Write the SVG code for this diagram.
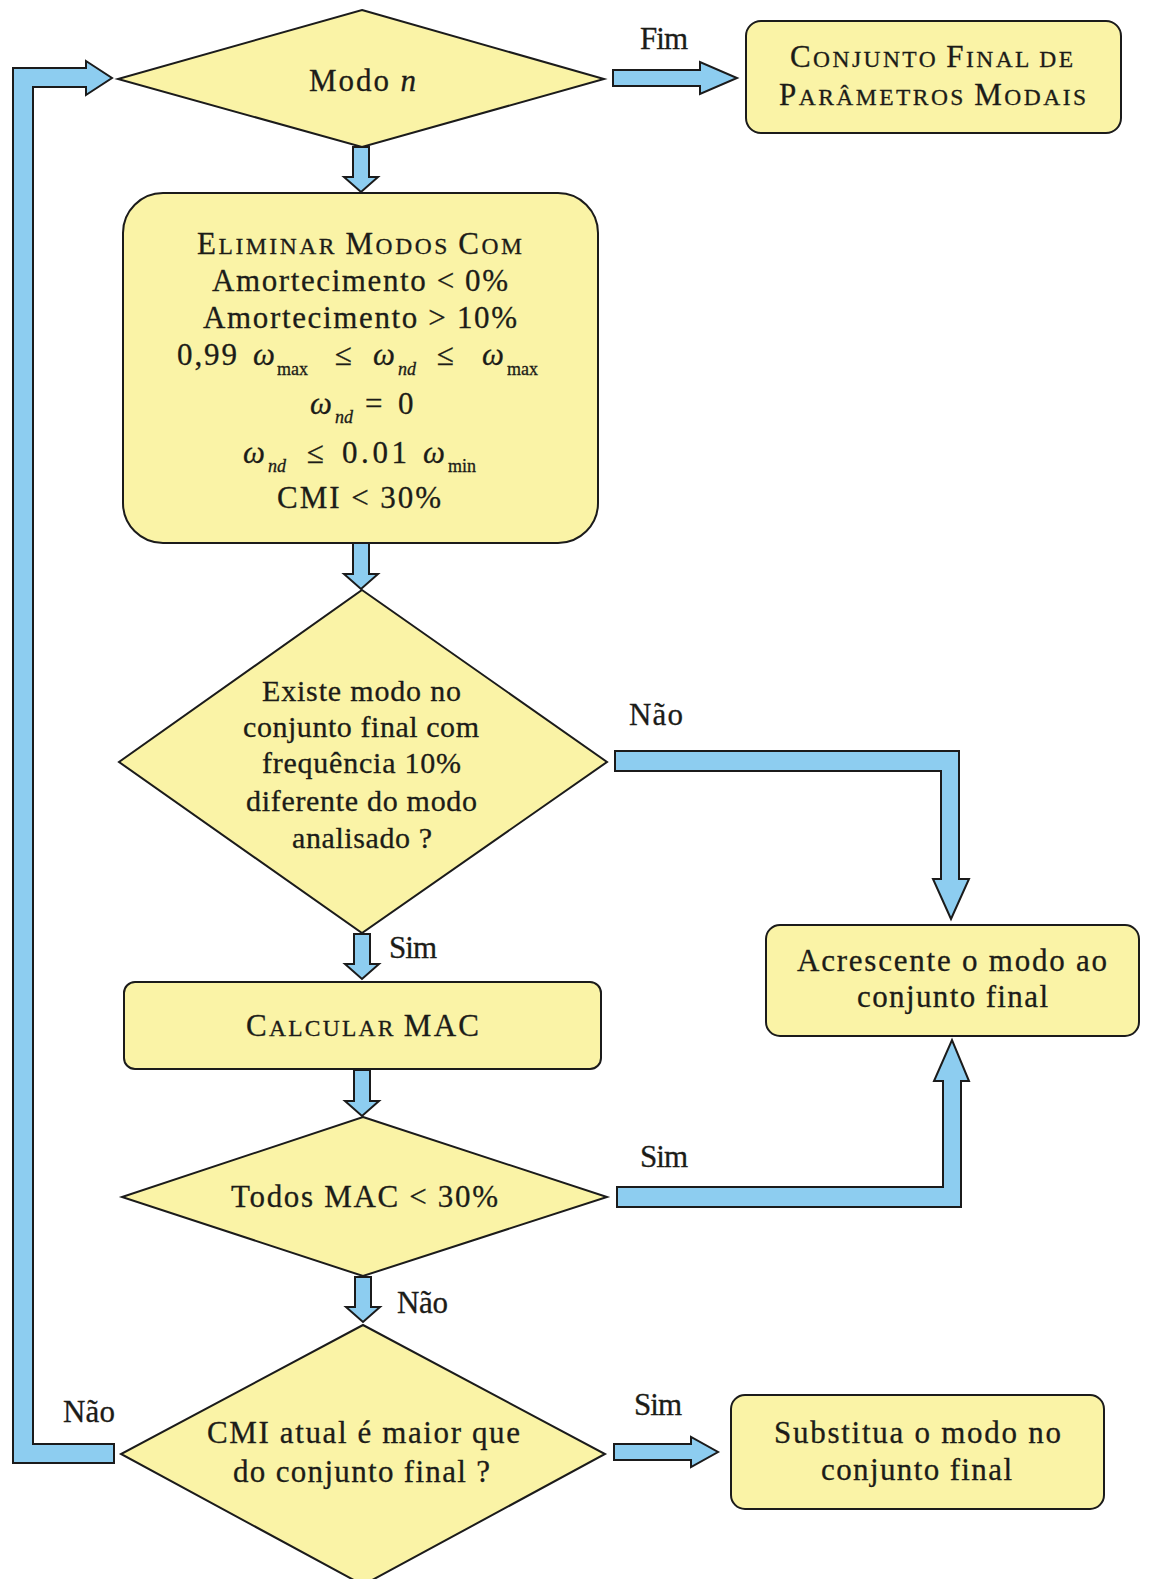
<svg xmlns="http://www.w3.org/2000/svg" width="1149" height="1579" viewBox="0 0 1149 1579">
<style>
.n{fill:#faf3a6;stroke:#1b1b1b;stroke-width:2;stroke-linejoin:miter}
.a{fill:#8dcdf0;stroke:#1b1b1b;stroke-width:2;stroke-linejoin:miter}
text{font-family:"Liberation Serif","Times New Roman",serif;font-size:31px;fill:#1c1c18;stroke:#1c1c18;stroke-width:0.3}
.sc{font-size:23.5px}
.it{font-style:italic}
.sub{font-size:18px}
.d{font-size:30px}
</style>
<rect width="1149" height="1579" fill="#ffffff"/>

<g id="connectors">
  <path class="a" d="M114,1444 L33,1444 L33,87 L86,87 L86,95 L112,78 L86,61 L86,68 L13,68 L13,1463 L114,1463 Z"/>
  <path class="a" d="M613,70 L700,70 L700,62 L737,78 L700,94 L700,86 L613,86 Z"/>
  <path class="a" d="M353,147 L369,147 L369,177 L378,177 L361,192 L344,177 L353,177 Z"/>
  <path class="a" d="M353,543 L369,543 L369,574 L378,574 L361,589 L344,574 L353,574 Z"/>
  <path class="a" d="M615,751 L959,751 L959,879 L969,879 L951,919 L933,879 L941,879 L941,771 L615,771 Z"/>
  <path class="a" d="M354,934 L370,934 L370,964 L379,964 L362,979 L345,964 L354,964 Z"/>
  <path class="a" d="M354,1070 L370,1070 L370,1101 L379,1101 L362,1116 L345,1101 L354,1101 Z"/>
  <path class="a" d="M617,1207 L961,1207 L961,1081 L969,1081 L952,1040 L934,1081 L943,1081 L943,1187 L617,1187 Z"/>
  <path class="a" d="M355,1277 L371,1277 L371,1307 L380,1307 L363,1322 L346,1307 L355,1307 Z"/>
  <path class="a" d="M614,1444 L691,1444 L691,1437 L718,1452 L691,1467 L691,1460 L614,1460 Z"/>
  <text x="640" y="49" textLength="48">Fim</text>
  <text x="629" y="725" textLength="54">Não</text>
  <text x="389" y="958" textLength="48">Sim</text>
  <text x="640" y="1167" textLength="48">Sim</text>
  <text x="397" y="1313" textLength="51">Não</text>
  <text x="63" y="1422" textLength="52">Não</text>
  <text x="634" y="1415" textLength="48">Sim</text>
</g>

<g id="node-modo">
  <polygon class="n" points="362,10 604,79 362,147 118,79"/>
  <text x="309" y="91" textLength="107">Modo <tspan class="it">n</tspan></text>
</g>

<g id="node-conjunto-final">
  <rect class="n" x="746" y="21" width="375" height="112" rx="15"/>
  <text x="790" y="67" textLength="283">C<tspan class="sc">ONJUNTO </tspan>F<tspan class="sc">INAL DE</tspan></text>
  <text x="779" y="105" textLength="307">P<tspan class="sc">ARÂMETROS </tspan>M<tspan class="sc">ODAIS</tspan></text>
</g>

<g id="node-eliminar">
  <rect class="n" x="123" y="193" width="475" height="350" rx="40"/>
  <text x="197" y="254" textLength="325">E<tspan class="sc">LIMINAR </tspan>M<tspan class="sc">ODOS </tspan>C<tspan class="sc">OM</tspan></text>
  <text x="212" y="291" textLength="296">Amortecimento &lt; 0%</text>
  <text x="203" y="328" textLength="314">Amortecimento &gt; 10%</text>
  <text x="177" y="365" textLength="60">0,99</text>
  <text x="253" y="365" class="it">ω</text>
  <text x="277" y="375" class="sub">max</text>
  <text x="335" y="365">≤</text>
  <text x="373" y="365" class="it">ω</text>
  <text x="398" y="375" class="sub it">nd</text>
  <text x="437" y="365">≤</text>
  <text x="482" y="365" class="it">ω</text>
  <text x="507" y="375" class="sub">max</text>
  <text x="310" y="414" class="it">ω</text>
  <text x="335" y="423" class="sub it">nd</text>
  <text x="365" y="414">=</text>
  <text x="398" y="414">0</text>
  <text x="243" y="463" class="it">ω</text>
  <text x="268" y="472" class="sub it">nd</text>
  <text x="307" y="463">≤</text>
  <text x="342" y="463" textLength="65">0.01</text>
  <text x="423" y="463" class="it">ω</text>
  <text x="448" y="472" class="sub">min</text>
  <text x="277" y="508" textLength="164">CMI &lt; 30%</text>
</g>

<g id="node-existe">
  <polygon class="n" points="362,590 607,762 362,933 119,762"/>
  <text class="d" x="262" y="701" textLength="199">Existe modo no</text>
  <text class="d" x="243" y="737" textLength="236">conjunto final com</text>
  <text class="d" x="262" y="773" textLength="199">frequência 10%</text>
  <text class="d" x="246" y="811" textLength="231">diferente do modo</text>
  <text class="d" x="292" y="848" textLength="140">analisado ?</text>
</g>

<g id="node-acrescente">
  <rect class="n" x="766" y="925" width="373" height="111" rx="14"/>
  <text x="797" y="971" textLength="310">Acrescente o modo ao</text>
  <text x="857" y="1007" textLength="191">conjunto final</text>
</g>

<g id="node-calcular">
  <rect class="n" x="124" y="982" width="477" height="87" rx="11"/>
  <text x="246" y="1036" textLength="233">C<tspan class="sc">ALCULAR </tspan>MAC</text>
</g>

<g id="node-todos">
  <polygon class="n" points="363,1117 607,1197 363,1276 122,1197"/>
  <text x="231" y="1207" textLength="267">Todos MAC &lt; 30%</text>
</g>

<g id="node-cmi">
  <polygon class="n" points="363,1325 605,1454 363,1585 121,1454"/>
  <text x="207" y="1443" textLength="313">CMI atual é maior que</text>
  <text x="233" y="1482" textLength="257">do conjunto final ?</text>
</g>

<g id="node-substitua">
  <rect class="n" x="731" y="1395" width="373" height="114" rx="14"/>
  <text x="774" y="1443" textLength="287">Substitua o modo no</text>
  <text x="821" y="1480" textLength="191">conjunto final</text>
</g>
</svg>
